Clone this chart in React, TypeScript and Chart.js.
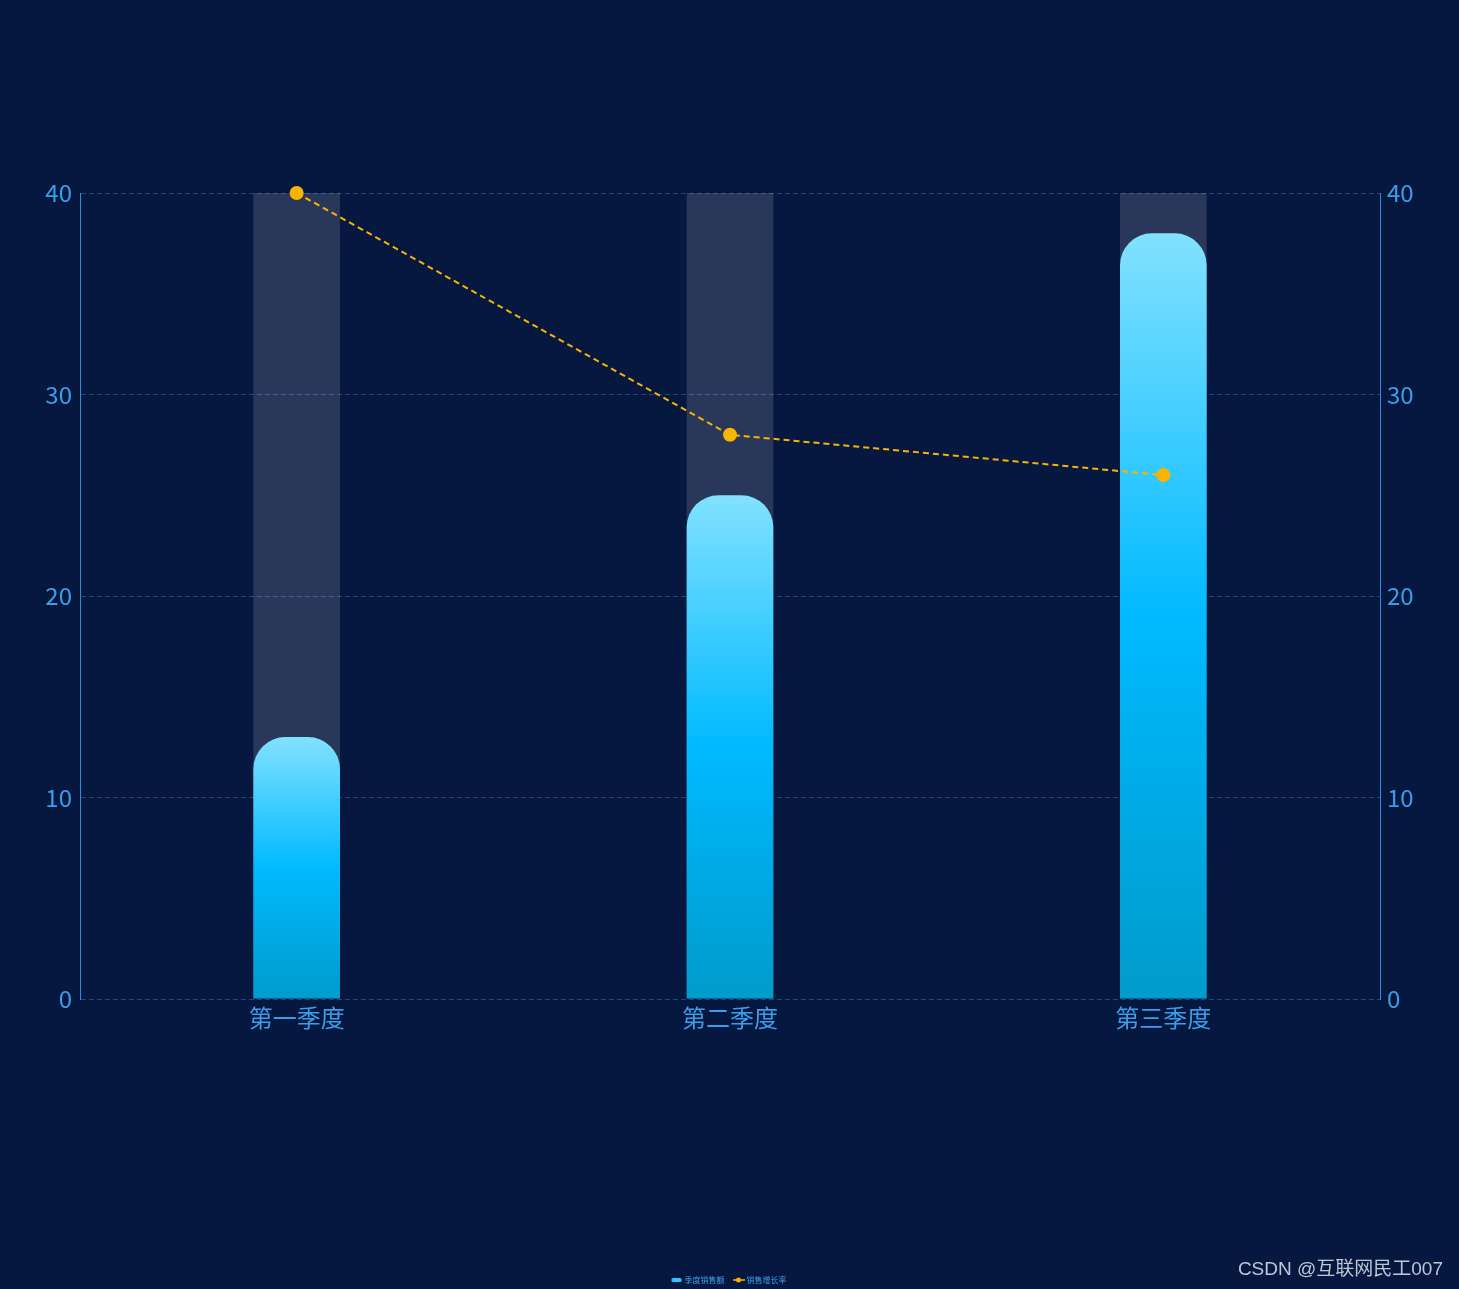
import React, { useEffect, useRef } from "react";
import { Chart, registerables } from "chart.js";

Chart.register(...registerables);

const categories = ["第一季度", "第二季度", "第三季度"];
const salesValues = [13, 25, 38];
const backgroundValues = [40, 40, 40];
const growthValues = [40, 28, 26];
const yTicks = [0, 10, 20, 30, 40];
const legendLabels = ["季度销售额", "销售增长率"];

const BG = "#06183f";
const TICK = "#3a9eea";
const AXIS = "#2f8ad8";
const GRID = "#1c4779";
const YELLOW = "#f7b500";
const FONT = "'Noto Sans CJK SC', 'Noto Sans', sans-serif";

function makeIcon(kind: "bar" | "line"): HTMLCanvasElement {
  const c = document.createElement("canvas");
  c.width = 12;
  c.height = 6;
  const g = c.getContext("2d")!;
  if (kind === "bar") {
    g.fillStyle = "#2ec6ff";
    g.beginPath();
    g.roundRect(1, 1, 10, 4, 1.5);
    g.fill();
  } else {
    g.strokeStyle = YELLOW;
    g.lineWidth = 1.5;
    g.beginPath();
    g.moveTo(0, 3);
    g.lineTo(12, 3);
    g.stroke();
    g.fillStyle = YELLOW;
    g.beginPath();
    g.arc(6, 3, 2.5, 0, Math.PI * 2);
    g.fill();
  }
  return c;
}

export default function App() {
  const ref = useRef<HTMLCanvasElement>(null);

  useEffect(() => {
    const canvas = ref.current!;
    const barIcon = makeIcon("bar");
    const lineIcon = makeIcon("line");

    const gradientFor = (ctx: any) => {
      const chart = ctx.chart;
      const area = chart.chartArea;
      if (!area || ctx.dataIndex === undefined) return "#20c0ff";
      const y = chart.scales.y;
      const v = ctx.dataset.data[ctx.dataIndex];
      const top = y.getPixelForValue(v);
      const bottom = y.getPixelForValue(0);
      const g = chart.ctx.createLinearGradient(0, top, 0, bottom);
      g.addColorStop(0, "#82e1ff");
      g.addColorStop(0.5, "#00baff");
      g.addColorStop(1, "#009bcb");
      return g;
    };

    const chart = new Chart(canvas, {
      type: "bar",
      data: {
        labels: categories,
        datasets: [
          {
            type: "line",
            label: legendLabels[1],
            data: growthValues,
            yAxisID: "y1",
            borderColor: YELLOW,
            backgroundColor: YELLOW,
            borderWidth: 2,
            borderDash: [6, 4],
            pointRadius: 7,
            pointBackgroundColor: YELLOW,
            pointBorderColor: YELLOW,
            pointBorderWidth: 0,
            tension: 0,
            clip: false,
            order: 0,
          } as any,
          {
            type: "bar",
            label: legendLabels[0],
            data: salesValues,
            yAxisID: "y",
            backgroundColor: gradientFor,
            borderRadius: { topLeft: 32, topRight: 32, bottomLeft: 0, bottomRight: 0 },
            borderSkipped: false,
            grouped: false,
            barPercentage: 1,
            categoryPercentage: 0.2,
            order: 1,
          } as any,
          {
            type: "bar",
            label: "bg",
            data: backgroundValues,
            yAxisID: "y",
            backgroundColor: "rgba(255,255,255,0.14)",
            grouped: false,
            barPercentage: 1,
            categoryPercentage: 0.2,
            order: 2,
          } as any,
        ],
      },
      options: {
        responsive: false,
        animation: false,
        devicePixelRatio: 1,
        layout: { padding: { top: 193, left: 0, right: 0, bottom: -5 } },
        plugins: {
          tooltip: { enabled: false },
          legend: {
            position: "bottom",
            labels: {
              usePointStyle: true,
              color: TICK,
              font: { size: 8, family: FONT },
              padding: 10,
              boxHeight: 6,
              generateLabels: () => [
                {
                  text: legendLabels[0],
                  pointStyle: barIcon,
                  fillStyle: "#2ec6ff",
                  strokeStyle: "transparent",
                  lineWidth: 0,
                  fontColor: TICK,
                  datasetIndex: 1,
                  hidden: false,
                } as any,
                {
                  text: legendLabels[1],
                  pointStyle: lineIcon,
                  fillStyle: YELLOW,
                  strokeStyle: "transparent",
                  lineWidth: 0,
                  fontColor: TICK,
                  datasetIndex: 0,
                  hidden: false,
                } as any,
              ],
            },
          },
        },
        scales: {
          x: {
            grid: { display: false },
            border: { display: false },
            ticks: {
              color: TICK,
              font: { size: 24, family: FONT },
              padding: -4,
            },
            afterFit: (s: any) => {
              s.height = 267;
            },
          },
          y: {
            position: "left",
            min: 0,
            max: 40,
            afterBuildTicks: (s: any) => {
              s.ticks = yTicks.map((v) => ({ value: v }));
            },
            grid: { color: GRID, lineWidth: 1, drawTicks: false },
            border: { display: true, color: AXIS, width: 1, dash: [5, 3] },
            ticks: {
              color: TICK,
              font: { size: 24, family: FONT },
              padding: 8,
            },
            afterFit: (s: any) => {
              s.width = 80;
            },
          },
          y1: {
            position: "right",
            min: 0,
            max: 40,
            afterBuildTicks: (s: any) => {
              s.ticks = yTicks.map((v) => ({ value: v }));
            },
            grid: { display: false, drawTicks: false },
            border: { display: true, color: AXIS, width: 1 },
            ticks: {
              color: TICK,
              font: { size: 24, family: FONT },
              padding: 7,
            },
            afterFit: (s: any) => {
              s.width = 79;
            },
          },
        },
      } as any,
    });
    return () => chart.destroy();
  }, []);

  return (
    <div
      style={{
        position: "fixed",
        left: 0,
        top: 0,
        width: 1459,
        height: 1289,
        background: BG,
        overflow: "hidden",
      }}
    >
      <canvas ref={ref} width={1459} height={1289} style={{ display: "block" }} />
      <div
        style={{
          position: "absolute",
          right: 16,
          top: 1255,
          color: "#bcc6d6",
          fontFamily: "'Liberation Sans', 'Noto Sans CJK SC', sans-serif",
          fontSize: 19,
          lineHeight: "28px",
          whiteSpace: "nowrap",
        }}
      >
        CSDN @互联网民工007
      </div>
    </div>
  );
}
